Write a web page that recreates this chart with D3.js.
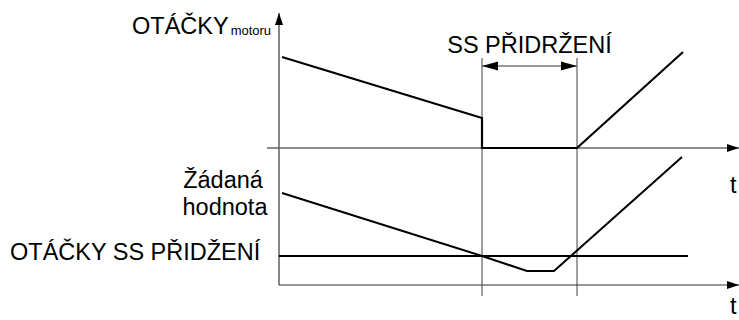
<!DOCTYPE html>
<html>
<head>
<meta charset="utf-8">
<script src="https://cdn.jsdelivr.net/npm/d3@7"></script>
<style>
  body { margin: 0; background: #fff; }
  text { font-family: "Liberation Sans", Arial, Helvetica, sans-serif; fill: #000; }
</style>
</head>
<body>
<div id="chart"></div>
<script>
// time in arbitrary units, speeds in arbitrary units (diagram, no ticks)
const motorT = [0.15, 10.15, 10.15, 14.9, 20.2];
const motorV = [91, 30, 0, 0, 96];
const setT = [0.15, 10.15, 12.4, 13.75, 20.15];
const setV = [92, 29, 14, 14, 128];
const holdT = [0, 20.45];
const holdV = [29, 29];
const markerT = [10.15, 14.9];

const width = 739, height = 320;
const svg = d3.select("#chart").append("svg")
  .attr("width", width).attr("height", height);

const x = d3.scaleLinear().domain([0, 23]).range([279, 739]);
const yTop = d3.scaleLinear().domain([0, 100]).range([148, 48]);
const yBot = d3.scaleLinear().domain([0, 100]).range([285, 185]);

const defs = svg.append("defs");
defs.append("marker").attr("id", "axArrow")
  .attr("markerUnits", "userSpaceOnUse")
  .attr("viewBox", "0 -5 12 10").attr("refX", 12).attr("refY", 0)
  .attr("markerWidth", 12).attr("markerHeight", 10).attr("orient", "auto")
  .append("path").attr("d", "M0,-4L12,0L0,4Z").attr("fill", "#000");
defs.append("marker").attr("id", "dimArrow")
  .attr("markerUnits", "userSpaceOnUse")
  .attr("viewBox", "0 -5 16 10").attr("refX", 16).attr("refY", 0)
  .attr("markerWidth", 16).attr("markerHeight", 10).attr("orient", "auto-start-reverse")
  .append("path").attr("d", "M0,-4.5L16,0L0,4.5Z").attr("fill", "#000");

// markers (SS holding interval)
svg.append("g").selectAll("line").data(markerT).enter().append("line")
  .attr("x1", d => x(d)).attr("x2", d => x(d))
  .attr("y1", yTop(90)).attr("y2", yBot(-11))
  .attr("stroke", "#777").attr("stroke-width", 1.4);

svg.append("line")
  .attr("x1", x(markerT[0])).attr("x2", x(markerT[1]))
  .attr("y1", yTop(82)).attr("y2", yTop(82))
  .attr("stroke", "#777").attr("stroke-width", 1.4)
  .attr("marker-start", "url(#dimArrow)").attr("marker-end", "url(#dimArrow)");

// axes
svg.append("line")
  .attr("x1", x(0)).attr("x2", x(0)).attr("y1", yBot(0)).attr("y2", 13)
  .attr("stroke", "#555").attr("stroke-width", 1.4).attr("marker-end", "url(#axArrow)");
svg.append("line")
  .attr("x1", x(-0.6)).attr("x2", x(23)).attr("y1", yTop(0)).attr("y2", yTop(0))
  .attr("stroke", "#666").attr("stroke-width", 1.4).attr("marker-end", "url(#axArrow)");
svg.append("line")
  .attr("x1", x(0)).attr("x2", x(23)).attr("y1", yBot(0)).attr("y2", yBot(0))
  .attr("stroke", "#333").attr("stroke-width", 1.1).attr("marker-end", "url(#axArrow)");

// series
const line = (ys) => d3.line().x(d => x(d[0])).y(d => ys(d[1]));
svg.append("path").datum(d3.zip(motorT, motorV))
  .attr("d", line(yTop)).attr("fill", "none").attr("stroke", "#000").attr("stroke-width", 2.2);
svg.append("path").datum(d3.zip(holdT, holdV))
  .attr("d", line(yBot)).attr("fill", "none").attr("stroke", "#000").attr("stroke-width", 2.2);
svg.append("path").datum(d3.zip(setT, setV))
  .attr("d", line(yBot)).attr("fill", "none").attr("stroke", "#000").attr("stroke-width", 2);

// labels
const fs = 23.5;
const t1 = svg.append("text").attr("x", 132).attr("y", 34).style("font-size", fs + "px");
t1.append("tspan").text("OTÁČKY");
t1.append("tspan").attr("dx", 2).attr("dy", 1).style("font-size", "13px").text("motoru");

svg.append("text").attr("x", (x(markerT[0]) + x(markerT[1])) / 2).attr("y", 53)
  .attr("text-anchor", "middle").style("font-size", fs + "px").text("SS PŘIDRŽENÍ");

svg.append("text").attr("x", 223).attr("y", 188).attr("text-anchor", "middle")
  .style("font-size", fs + "px").text("Žádaná");
svg.append("text").attr("x", 225).attr("y", 215).attr("text-anchor", "middle")
  .style("font-size", fs + "px").text("hodnota");
svg.append("text").attr("x", 10).attr("y", 260)
  .style("font-size", fs + "px").text("OTÁČKY SS PŘIDŽENÍ");

svg.append("text").attr("x", 730).attr("y", 193).style("font-size", fs + "px").text("t");
svg.append("text").attr("x", 730).attr("y", 314).style("font-size", fs + "px").text("t");
</script>
</body>
</html>
